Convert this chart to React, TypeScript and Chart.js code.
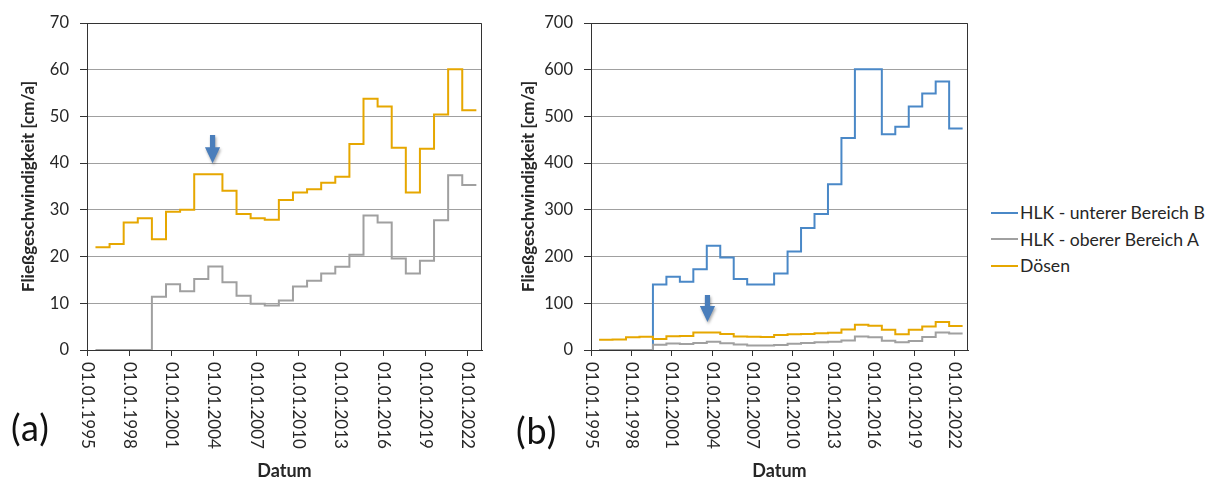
import React, { useEffect, useRef } from 'react';
import { Chart, registerables } from 'chart.js';

Chart.register(...registerables);

// ---- data ----
const stepDates = [
  1995.6, 1996.6, 1997.6, 1998.6, 1999.6, 2000.6, 2001.6, 2002.6, 2003.6, 2004.6,
  2005.6, 2006.6, 2007.6, 2008.6, 2009.6, 2010.6, 2011.6, 2012.6, 2013.6, 2014.6,
  2015.6, 2016.6, 2017.6, 2018.6, 2019.6, 2020.6, 2021.6, 2022.6,
];
const hlkUnterB = [
  0, 0, 0, 0, 140, 157, 146, 173, 223, 198, 152, 140, 140, 164, 211, 261, 291, 355, 454, 601,
  601, 462, 478, 521, 549, 575, 474,
];
const hlkOberA = [
  0, 0, 0, 0, 11.4, 14.1, 12.6, 15.2, 17.9, 14.5, 11.6, 9.9, 9.5, 10.6, 13.6, 14.8, 16.4, 17.8,
  20.4, 28.8, 27.3, 19.6, 16.4, 19.1, 27.8, 37.4, 35.3,
];
const doesen = [
  22.0, 22.7, 27.3, 28.2, 23.7, 29.6, 30.0, 37.6, 37.6, 34.1, 29.1, 28.2, 27.9, 32.1, 33.7, 34.4,
  35.8, 37.1, 44.1, 53.8, 52.1, 43.3, 33.7, 43.1, 50.4, 60.1, 51.3,
];
const seriesNames = ['HLK - unterer Bereich B', 'HLK - oberer Bereich A', 'Dösen'];
const seriesColors = ['#4a88c7', '#a0a0a0', '#e6a700'];

const xTickYears = [1995, 1998, 2001, 2004, 2007, 2010, 2013, 2016, 2019, 2022];
const xTickLabels = [
  '01.01.1995', '01.01.1998', '01.01.2001', '01.01.2004', '01.01.2007',
  '01.01.2010', '01.01.2013', '01.01.2016', '01.01.2019', '01.01.2022',
];
const xRange = [1995, 2023];
const yRangeA = [0, 70, 10];
const yRangeB = [0, 700, 100];
// arrow annotation: [date, top value, tip value]
const arrowA = [2003.9, 46, 40];
const arrowB = [2003.65, 118, 60];

const FONT = 'Lato';
const TEXT = '#262626';
const AXIS = '#333333';
const GRID = '#a0a0a0';

function stepPoints(values: number[]) {
  const pts = values.map((v, i) => ({ x: stepDates[i], y: v }));
  pts.push({ x: stepDates[values.length], y: values[values.length - 1] });
  return pts;
}

function makeDataset(idx: number, values: number[]) {
  return {
    label: seriesNames[idx],
    data: stepPoints(values),
    borderColor: seriesColors[idx],
    backgroundColor: seriesColors[idx],
    borderWidth: 2,
    pointRadius: 0,
    stepped: true,
    fill: false,
  };
}

function makeChart(canvas: HTMLCanvasElement, datasets: any[], yr: number[], arrow: number[], yWidth: number, padRight: number) {
  const framePlugin = {
    id: 'frame',
    beforeDatasetsDraw(chart: any) {
      const { ctx, chartArea } = chart;
      ctx.save();
      ctx.strokeStyle = AXIS;
      ctx.lineWidth = 1;
      const t = Math.round(chartArea.top) + 0.5;
      const r = Math.round(chartArea.right) - 0.5;
      ctx.beginPath();
      ctx.moveTo(chartArea.left, t);
      ctx.lineTo(r, t);
      ctx.lineTo(r, chartArea.bottom);
      ctx.stroke();
      ctx.restore();
    },
  };
  const arrowPlugin = {
    id: 'arrow',
    afterDatasetsDraw(chart: any) {
      const { ctx, scales } = chart;
      const px = scales.x.getPixelForValue(arrow[0]);
      const top = scales.y.getPixelForValue(arrow[1]);
      const tip = scales.y.getPixelForValue(arrow[2]);
      const head = 16, shaft = 2.6, half = 7.6;
      ctx.save();
      ctx.shadowColor = 'rgba(0,0,0,0.35)';
      ctx.shadowBlur = 3;
      ctx.shadowOffsetX = 1;
      ctx.shadowOffsetY = 2;
      ctx.fillStyle = '#4a7ebb';
      ctx.beginPath();
      ctx.moveTo(px - shaft, top);
      ctx.lineTo(px + shaft, top);
      ctx.lineTo(px + shaft, tip - head);
      ctx.lineTo(px + half, tip - head);
      ctx.lineTo(px, tip);
      ctx.lineTo(px - half, tip - head);
      ctx.lineTo(px - shaft, tip - head);
      ctx.closePath();
      ctx.fill();
      ctx.restore();
    },
  };
  const xLabelPlugin = {
    id: 'xlabels',
    afterDraw(chart: any) {
      const { ctx, scales, chartArea } = chart;
      ctx.save();
      ctx.fillStyle = TEXT;
      ctx.font = `17px ${FONT}`;
      ctx.textAlign = 'left';
      ctx.textBaseline = 'middle';
      xTickYears.forEach((yv, i) => {
        const px = scales.x.getPixelForValue(yv);
        ctx.save();
        ctx.translate(px, chartArea.bottom + 12);
        ctx.rotate(Math.PI / 2);
        ctx.fillText(xTickLabels[i], 0, 0);
        ctx.restore();
      });
      ctx.restore();
    },
  };

  return new Chart(canvas, {
    type: 'line',
    data: { datasets },
    options: {
      responsive: false,
      animation: false,
      layout: { padding: { left: 0, right: padRight, top: 23, bottom: 0 } },
      plugins: { legend: { display: false }, tooltip: { enabled: false } },
      scales: {
        x: {
          type: 'linear',
          min: xRange[0],
          max: xRange[1],
          afterBuildTicks: (s: any) => {
            s.ticks = xTickYears.map((v) => ({ value: v }));
          },
          afterFit: (s: any) => {
            s.height = 127;
          },
          ticks: { display: false },
          grid: { drawOnChartArea: false, drawTicks: true, tickLength: 6, tickColor: AXIS },
          border: { display: true, color: AXIS, width: 1 },
          title: {
            display: true,
            text: 'Datum',
            color: TEXT,
            font: { family: FONT, size: 18, weight: 'bold', lineHeight: '12px' },
            padding: { top: 0, bottom: 0 },
          },
        },
        y: {
          min: yr[0],
          max: yr[1],
          afterFit: (s: any) => {
            s.width = yWidth;
          },
          ticks: { stepSize: yr[2], color: TEXT, padding: 11, font: { family: FONT, size: 16.5 } },
          grid: { color: GRID, tickColor: AXIS, tickLength: 7 },
          border: { display: true, color: AXIS, width: 1 },
          title: {
            display: true,
            text: 'Fließgeschwindigkeit [cm/a]',
            color: TEXT,
            font: { family: FONT, size: 17, weight: 'bold', lineHeight: '20px' },
            padding: { top: 18.5, bottom: 0 },
          },
        },
      },
    } as any,
    plugins: [framePlugin, arrowPlugin, xLabelPlugin],
  });
}

function Panel(props: { left: number; width: number; datasets: () => any[]; yr: number[]; arrow: number[]; yWidth: number; padRight: number }) {
  const ref = useRef<HTMLCanvasElement>(null);
  useEffect(() => {
    if (!ref.current) return;
    const ch = makeChart(ref.current, props.datasets(), props.yr, props.arrow, props.yWidth, props.padRight);
    return () => ch.destroy();
  }, []);
  return (
    <div style={{ position: 'absolute', left: props.left, top: 0, width: props.width, height: 477 }}>
      <canvas ref={ref} width={props.width} height={477} style={{ display: 'block' }} />
    </div>
  );
}

export default function App() {
  return (
    <div style={{ position: 'fixed', left: 0, top: 0, width: 1211, height: 477, background: '#fff', overflow: 'hidden', fontFamily: FONT }}>
      <Panel
        left={0}
        width={500}
        datasets={() => [makeDataset(2, doesen), makeDataset(1, hlkOberA)]}
        yr={yRangeA}
        arrow={arrowA}
        yWidth={87}
        padRight={18}
      />
      <Panel
        left={500}
        width={490}
        datasets={() => [makeDataset(2, doesen), makeDataset(1, hlkOberA), makeDataset(0, hlkUnterB)]}
        yr={yRangeB}
        arrow={arrowB}
        yWidth={91}
        padRight={22}
      />
      <div style={{ position: 'absolute', left: 11, top: 409, fontSize: 36, lineHeight: '36px', letterSpacing: 1, color: '#111' }}>(a)</div>
      <div style={{ position: 'absolute', left: 516, top: 412, fontSize: 36, lineHeight: '36px', letterSpacing: 1, color: '#111' }}>(b)</div>
      <div style={{ position: 'absolute', left: 991, top: 199.5 }}>
        {seriesNames.map((n, i) => (
          <div key={n} style={{ display: 'flex', alignItems: 'center', height: 26.5 }}>
            <div style={{ width: 27, height: 2, background: seriesColors[i] }} />
            <span style={{ marginLeft: 2, fontSize: 17.6, color: TEXT, whiteSpace: 'nowrap' }}>{n}</span>
          </div>
        ))}
      </div>
    </div>
  );
}
